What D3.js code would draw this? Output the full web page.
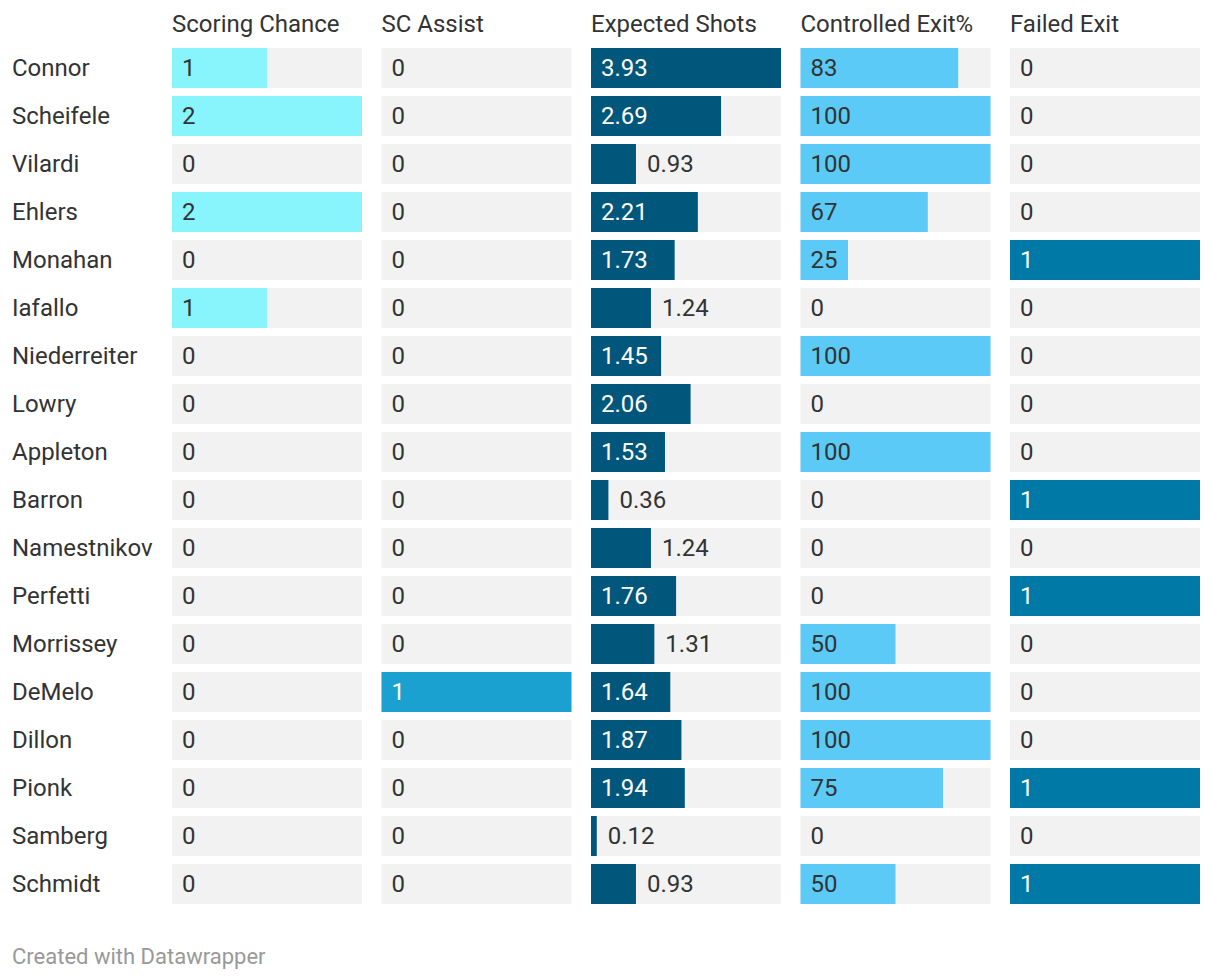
<!DOCTYPE html>
<html>
<head>
<meta charset="utf-8">
<script src="https://cdn.jsdelivr.net/npm/d3@7"></script>
<style>
  body { margin: 0; background: #fff; font-family: Roboto, sans-serif; }
  .head { font-size: 24px; fill: #333; }
  .name { font-size: 24px; fill: #333; }
  .val { font-size: 24px; }
  .foot { font-size: 22px; fill: #999; }
</style>
</head>
<body>
<svg id="chart" width="1220" height="980"></svg>
<script>
var players = ['Connor', 'Scheifele', 'Vilardi', 'Ehlers', 'Monahan', 'Iafallo', 'Niederreiter', 'Lowry',
  'Appleton', 'Barron', 'Namestnikov', 'Perfetti', 'Morrissey', 'DeMelo', 'Dillon', 'Pionk', 'Samberg', 'Schmidt'];
var columns = ['Scoring Chance', 'SC Assist', 'Expected Shots', 'Controlled Exit%', 'Failed Exit'];

var scoringChance = [1, 2, 0, 2, 0, 1, 0, 0, 0, 0, 0, 0, 0, 0, 0, 0, 0, 0];
var scAssist      = [0, 0, 0, 0, 0, 0, 0, 0, 0, 0, 0, 0, 0, 1, 0, 0, 0, 0];
var expectedShots = [3.93, 2.69, 0.93, 2.21, 1.73, 1.24, 1.45, 2.06, 1.53, 0.36, 1.24, 1.76, 1.31, 1.64, 1.87, 1.94, 0.12, 0.93];
var controlledExit = [83, 100, 100, 67, 25, 0, 100, 0, 100, 0, 0, 0, 50, 100, 100, 75, 0, 50];
var failedExit    = [0, 0, 0, 0, 1, 0, 0, 0, 0, 1, 0, 1, 0, 0, 0, 1, 0, 1];

var series = [scoringChance, scAssist, expectedShots, controlledExit, failedExit];
var colors = ['#88f4fc', '#1ba1cf', '#01567c', '#5bcaf6', '#0079a7'];
var darkBar = [false, true, true, false, true];
var formats = [d3.format('d'), d3.format('d'), d3.format('.2f'), d3.format('d'), d3.format('d')];

var svg = d3.select('#chart');

// 5 columns of ~190px with ~20px gaps
var colX = d3.scaleBand().domain(columns).range([172, 1200]).paddingInner(19.5 / 209.5).paddingOuter(0);
// rows 40px high, 48px pitch
var y = d3.scaleBand().domain(players).range([48, 48 + 48 * players.length - 8]).paddingInner(8 / 48).paddingOuter(0);

svg.selectAll('.head').data(columns).enter().append('text')
  .attr('class', 'head')
  .attr('x', function(d) { return colX(d); })
  .attr('y', 32)
  .text(function(d) { return d; });

svg.selectAll('.name').data(players).enter().append('text')
  .attr('class', 'name')
  .attr('x', 12)
  .attr('y', function(d) { return y(d) + y.bandwidth() / 2; })
  .attr('dy', '0.33em')
  .text(function(d) { return d; });

columns.forEach(function(col, ci) {
  var vals = series[ci];
  var x0 = colX(col);
  var w = colX.bandwidth();
  var xs = d3.scaleLinear().domain([0, d3.max(vals)]).range([0, w]);
  var g = svg.append('g').attr('class', 'col');

  g.selectAll('.bg').data(players).enter().append('rect')
    .attr('class', 'bg')
    .attr('x', x0).attr('y', function(d) { return y(d); })
    .attr('width', w).attr('height', y.bandwidth())
    .attr('fill', '#f2f2f2');

  g.selectAll('.bar').data(vals).enter().append('rect')
    .attr('class', 'bar')
    .attr('x', x0).attr('y', function(d, i) { return y(players[i]); })
    .attr('width', function(d) { return xs(d); })
    .attr('height', y.bandwidth())
    .attr('fill', colors[ci]);

  g.selectAll('.val').data(vals).enter().append('text')
    .attr('class', 'val')
    .attr('y', function(d, i) { return y(players[i]) + y.bandwidth() / 2; })
    .attr('dy', '0.33em')
    .text(function(d) { return formats[ci](d); })
    .each(function(d) {
      var t = d3.select(this);
      var tw = this.getComputedTextLength();
      var bw = xs(d);
      if (d > 0 && bw >= tw + 18) {
        t.attr('x', x0 + 10).attr('fill', darkBar[ci] ? '#fff' : '#333');
      } else if (d > 0) {
        t.attr('x', x0 + bw + 11).attr('fill', '#333');
      } else {
        t.attr('x', x0 + 10).attr('fill', '#333');
      }
    });
});

svg.append('text')
  .attr('class', 'foot')
  .attr('x', 12)
  .attr('y', 964)
  .text('Created with Datawrapper');
</script>
</body>
</html>
